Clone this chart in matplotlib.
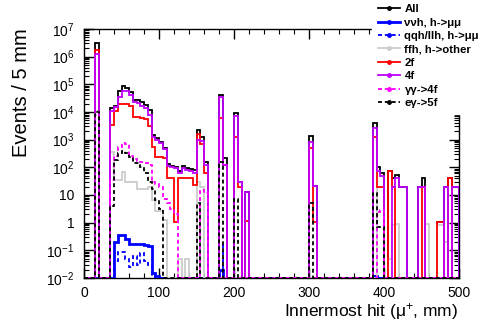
import numpy as np
import matplotlib as mpl
import matplotlib.pyplot as plt
from matplotlib.lines import Line2D
from matplotlib.ticker import FixedLocator, FuncFormatter, LogLocator, NullFormatter, MultipleLocator

# 5 mm bins from 0 to 500 mm; values keyed by lower bin edge (mm), empty bins omitted
edges = np.arange(0, 505, 5)

all_evt = {15: 3.2e6, 35: 1.35e4, 40: 1.7e4, 45: 5.6e4, 50: 8.7e4, 55: 7.4e4, 60: 5.4e4,
           65: 2.7e4, 70: 2.7e4, 75: 2.3e4, 80: 1.85e4, 85: 1.15e4, 90: 1.5e3, 95: 1.15e3,
           100: 850, 105: 500, 110: 135, 115: 115, 120: 100, 125: 76, 130: 115, 135: 91,
           140: 85, 145: 78, 150: 2.2e3, 155: 1.3e3, 160: 160, 180: 4.1e4, 185: 215,
           200: 9e3, 205: 30, 215: 13, 300: 1.35e3, 305: 21, 385: 3.9e3, 390: 100, 395: 65,
           405: 76, 410: 40, 415: 52, 420: 20, 425: 20, 445: 20, 450: 40, 470: 1.1, 475: 1.1,
           480: 20, 485: 40, 490: 20, 495: 20}
vvh_mumu = {40: 0.2, 45: 0.35, 50: 0.35, 55: 0.25, 60: 0.17, 65: 0.17, 70: 0.17, 75: 0.17,
            80: 0.15, 85: 0.14, 90: 0.015, 95: 0.012, 180: 0.02, 385: 0.012}
qqh_mumu = {15: 50, 40: 0.04, 45: 0.09, 50: 0.09, 55: 0.05, 60: 0.025, 65: 0.06, 70: 0.03,
            75: 0.08, 80: 0.04, 85: 0.03, 90: 0.012, 180: 0.15, 385: 0.012}
ffh_other = {15: 1.1e4, 35: 350, 40: 35, 45: 35, 50: 70, 55: 30, 60: 30, 65: 30, 70: 17,
             75: 17, 80: 17, 85: 20, 90: 6.6, 95: 2.7, 100: 2.7, 105: 1.2, 125: 0.05,
             135: 0.05, 150: 30, 155: 20, 390: 20, 395: 20, 405: 0.05, 410: 0.8, 415: 0.9,
             455: 0.9, 470: 0.8, 475: 0.8, 480: 0.2}
bkg_2f = {15: 1.7e6, 35: 3.5e3, 40: 1.1e4, 45: 2e4, 50: 2e4, 55: 2e4, 60: 1.6e4, 65: 6.8e3,
          70: 6.8e3, 75: 6e3, 80: 5.6e3, 85: 3.2e3, 90: 525, 95: 240, 100: 240, 105: 215,
          110: 40, 115: 40, 120: 1.1, 125: 40, 130: 40, 135: 40, 140: 40, 145: 23,
          150: 1.6e3, 155: 700, 160: 63, 180: 6.2e3, 185: 120, 200: 1.2e3, 205: 20,
          215: 1.15, 300: 490, 305: 1.1, 385: 1.2e3, 390: 19, 395: 19, 405: 76, 410: 20,
          450: 20, 470: 1.1, 475: 1.1, 485: 40}
bkg_4f = {15: 1.3e6, 35: 1.1e4, 40: 1.5e4, 45: 3.4e4, 50: 5.8e4, 55: 5.8e4, 60: 4.1e4,
          65: 2.3e4, 70: 2.2e4, 75: 1.7e4, 80: 1.45e4, 85: 8e3, 90: 1.3e3, 95: 980, 100: 780,
          105: 450, 110: 112, 115: 100, 120: 93, 125: 65, 130: 93, 135: 80, 140: 76, 145: 65,
          150: 1e3, 155: 900, 160: 125, 180: 3.4e4, 185: 120, 200: 7.2e3, 205: 30, 215: 13,
          300: 850, 305: 21, 385: 2.6e3, 390: 76, 395: 50, 410: 20, 415: 40, 420: 20,
          425: 20, 445: 20, 450: 20, 480: 20, 490: 20, 495: 20}
gg_4f = {15: 8e3, 35: 35, 40: 250, 45: 560, 50: 780, 55: 700, 60: 250, 65: 195, 70: 175,
         75: 160, 80: 140, 85: 125, 90: 30, 95: 26, 100: 20, 105: 7, 110: 5, 115: 3,
         120: 2, 155: 15, 160: 12, 390: 2.5, 395: 2.9}
eg_5f = {15: 1e4, 35: 4, 40: 185, 45: 320, 50: 400, 55: 320, 60: 245, 65: 140, 70: 140,
         75: 100, 80: 60, 85: 30, 90: 17, 95: 6.6, 100: 3.2, 150: 5, 180: 150, 200: 7,
         300: 5, 385: 12, 390: 0.7, 395: 0.7}

series = [
    ("All", all_evt, "black", "-", 1.3),
    ("\u03bd\u03bdh, h->\u03bc\u03bc", vvh_mumu, "#0000ff", "-", 2.0),
    ("qqh/llh, h->\u03bc\u03bc", qqh_mumu, "#0000ff", "--", 1.3),
    ("ffh, h->other", ffh_other, "#cccccc", "-", 1.3),
    ("2f", bkg_2f, "#ff0000", "-", 1.3),
    ("4f", bkg_4f, "#c000ff", "-", 1.3),
    ("\u03b3\u03b3->4f", gg_4f, "#ff00ff", "--", 1.3),
    ("e\u03b3->5f", eg_5f, "black", "--", 1.3),
]

ymin, ymax = 1e-2, 1e7
DASH = (0, (2.2, 1.6))

def to_array(d):
    v = np.zeros(len(edges) - 1)
    for mm, n in d.items():
        v[mm // 5] = n
    return v

mpl.rcParams.update({
    "font.family": "Liberation Sans",
    "mathtext.fontset": "custom",
    "mathtext.rm": "Liberation Sans",
    "mathtext.it": "Liberation Sans:italic",
    "mathtext.bf": "Liberation Sans:bold",
    "axes.linewidth": 1.0,
})

fig = plt.figure(figsize=(4.8, 3.33), dpi=100)
ax = fig.add_axes([84 / 480, 55 / 333, 375 / 480, 249 / 333])

handles = []
for i, (lab, d, col, ls, lw) in enumerate(series):
    v = np.maximum(to_array(d), ymin)
    st = ax.stairs(v, edges, baseline=ymin, color=col, lw=lw, zorder=2 + i)
    if ls == "--":
        st.set_linestyle(DASH)
    handles.append(Line2D([], [], color=col, lw=lw, ls=DASH if ls == "--" else "-",
                          marker="o", ms=2.5))

ax.set_yscale("log")
ax.set_xlim(0, 500)
ax.set_ylim(ymin, ymax)

ax.xaxis.set_major_locator(MultipleLocator(100))
ax.xaxis.set_minor_locator(MultipleLocator(20))
ax.yaxis.set_major_locator(FixedLocator([10.0 ** e for e in range(-2, 8)]))
ax.yaxis.set_minor_locator(LogLocator(base=10, subs=np.arange(2, 10), numticks=20))
ax.yaxis.set_minor_formatter(NullFormatter())

def ylab(y, pos):
    e = int(round(np.log10(y)))
    if e == 0:
        return "1"
    if e == 1:
        return "10"
    return r"$10^{%d}$" % e

ax.yaxis.set_major_formatter(FuncFormatter(ylab))
ax.tick_params(which="both", direction="in", top=True, right=True, labelsize=10)
ax.tick_params(which="major", length=7, width=1.0)
ax.tick_params(which="minor", length=3.5, width=0.8)
ax.tick_params(axis="x", pad=6)
ax.tick_params(axis="y", pad=7)

fig.text(458 / 480, 1 - 312 / 333, "Innermost hit (\u03bc$^{+}$, mm)", fontsize=12.5,
         ha="right", va="center")
fig.text(22 / 480, 1 - 28 / 333, "Events / 5 mm", fontsize=14.5, rotation=90,
         ha="center", va="top")

leg = fig.legend(handles, [s[0] for s in series], loc="upper left",
                 bbox_to_anchor=(372 / 480, 1 + 1.5 / 333), borderaxespad=0,
                 prop={"size": 8.2, "weight": "bold"}, numpoints=1, handlelength=2.0,
                 handletextpad=0.35, labelspacing=0.3, borderpad=0.5,
                 frameon=True, fancybox=False, framealpha=1)
leg.get_frame().set_facecolor("white")
leg.get_frame().set_edgecolor("white")

fig.savefig("out.png", dpi=100, facecolor="white")
